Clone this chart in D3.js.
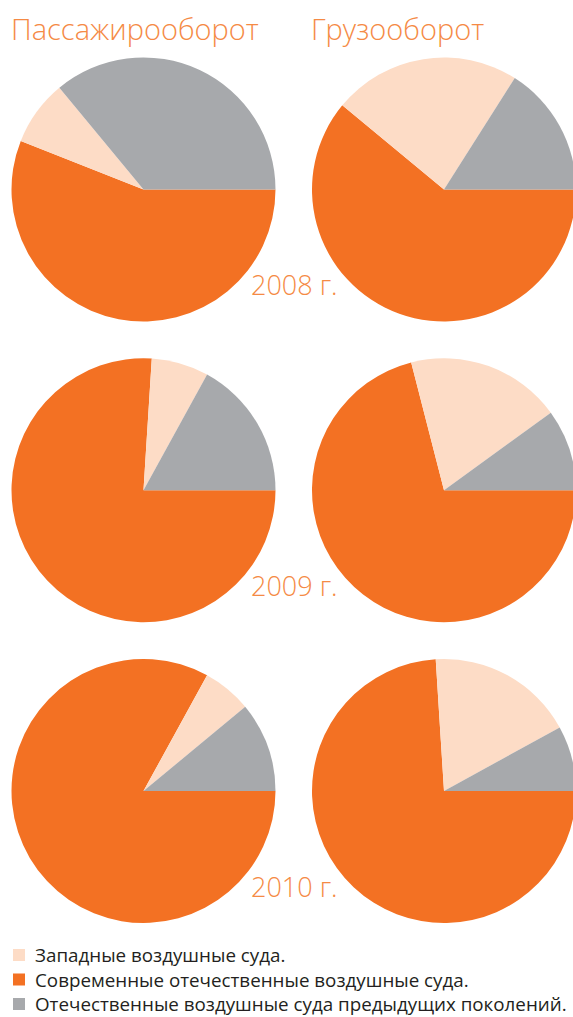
<!DOCTYPE html>
<html>
<head>
<meta charset="utf-8">
<script src="https://cdn.jsdelivr.net/npm/d3@7"></script>
<style>
  body { margin: 0; background: #fff; }
  svg { display: block; }
  .title { font-family: "Open Sans", sans-serif; font-weight: 300; fill: #F58A45; font-size: 29px; }
  .year { font-family: "Open Sans", sans-serif; font-weight: 300; fill: #F58A45; font-size: 27px; }
  .legend text { font-family: "Open Sans", sans-serif; fill: #231F20; font-size: 18.8px; }
</style>
</head>
<body>
<svg width="573" height="1017"></svg>
<script>
// данные (в процентах)
const years = ["2008 г.", "2009 г.", "2010 г."];
const columns = ["Пассажирооборот", "Грузооборот"];
const categories = [
  "Западные воздушные суда.",
  "Современные отечественные воздушные суда.",
  "Отечественные воздушные суда предыдущих поколений."
];
const colors = ["#FDDCC6", "#F37123", "#A7A9AC"];

const passWestern = [8, 7, 6];
const passModern = [56, 76, 83];
const passOld = [36, 17, 11];

const cargoWestern = [23, 19, 18];
const cargoModern = [61, 71, 74];
const cargoOld = [16, 10, 8];

const svg = d3.select("svg");
const radius = 132;

const xCenter = d3.scalePoint().domain(columns).range([143.5, 444]);
const yCenter = d3.scalePoint().domain(years).range([189.5, 791]);

const color = d3.scaleOrdinal().domain(categories).range(colors);

// порядок по часовой от 3 часов: современные, западные, старые
const pie = d3.pie()
  .sort(null)
  .value(d => d.value)
  .startAngle(Math.PI / 2)
  .endAngle(Math.PI / 2 + 2 * Math.PI);

const arc = d3.arc().innerRadius(0).outerRadius(radius);

const series = [
  { col: columns[0], western: passWestern, modern: passModern, old: passOld },
  { col: columns[1], western: cargoWestern, modern: cargoModern, old: cargoOld }
];

series.forEach(s => {
  years.forEach((yr, i) => {
    const rows = [
      { cat: categories[1], value: s.modern[i] },
      { cat: categories[0], value: s.western[i] },
      { cat: categories[2], value: s.old[i] }
    ];
    const g = svg.append("g")
      .attr("transform", `translate(${xCenter(s.col)},${yCenter(yr)})`);
    g.selectAll("path")
      .data(pie(rows))
      .enter().append("path")
      .attr("d", arc)
      .attr("fill", d => color(d.data.cat));
  });
});

// подписи годов
svg.selectAll(".year")
  .data(years)
  .enter().append("text")
  .attr("class", "year")
  .attr("x", 251)
  .attr("y", d => yCenter(d) + 105.5)
  .text(d => d);

// заголовки колонок
svg.selectAll(".title")
  .data(columns)
  .enter().append("text")
  .attr("class", "title")
  .attr("x", (d, i) => i === 0 ? 11 : 311)
  .attr("y", 39.5)
  .text(d => d);

// легенда
const legend = svg.append("g").attr("class", "legend")
  .attr("transform", "translate(13,955)");

const item = legend.selectAll("g")
  .data(categories)
  .enter().append("g")
  .attr("transform", (d, i) => `translate(0,${i * 24.5})`);

item.append("rect")
  .attr("x", 0)
  .attr("y", -6)
  .attr("width", 12)
  .attr("height", 12)
  .attr("fill", d => color(d));

item.append("text")
  .attr("x", 22)
  .attr("y", 7)
  .text(d => d);
</script>
</body>
</html>
